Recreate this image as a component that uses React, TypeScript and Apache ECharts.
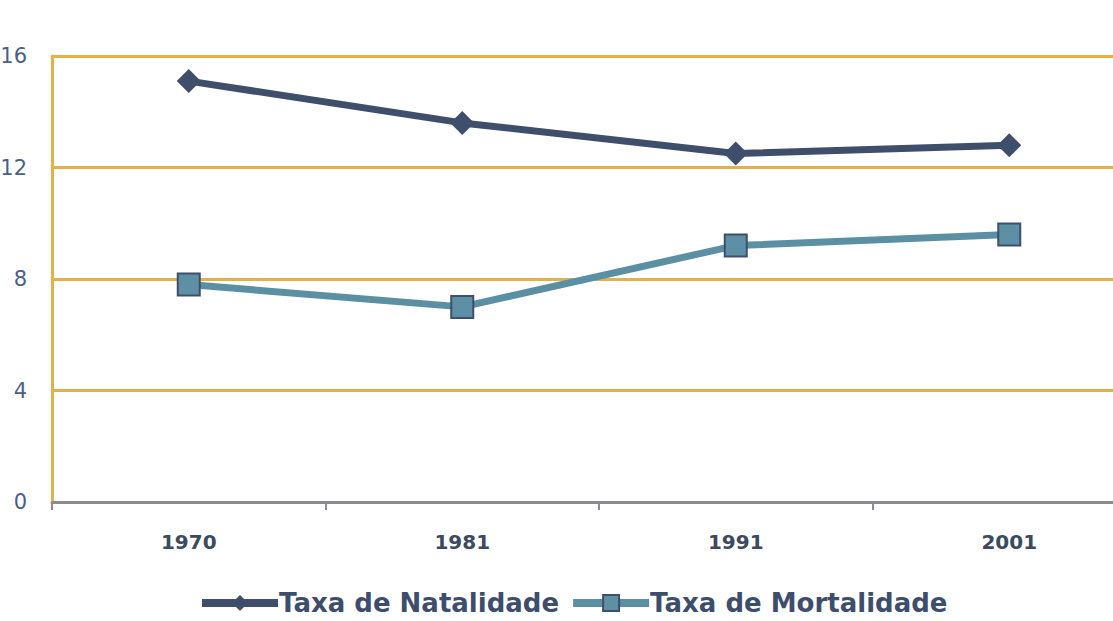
import React, { useEffect, useRef } from "react";
import * as echarts from "echarts";

const categories = ["1970", "1981", "1991", "2001"];
const natalidade = [15.1, 13.6, 12.5, 12.8];
const mortalidade = [7.8, 7.0, 9.2, 9.6];
const yTicks = [0, 4, 8, 12, 16];

export default function App() {
  const ref = useRef<HTMLDivElement>(null);
  useEffect(() => {
    if (!ref.current) return;
    const chart = echarts.init(ref.current, null, { renderer: "svg" });
    chart.setOption({
      animation: false,
      backgroundColor: "#ffffff",
      grid: {
        left: 52,
        width: 1094,
        top: 56,
        height: 446,
        containLabel: false,
        outerBoundsMode: "none",
      },
      legend: {
        top: 585,
        left: 193,
        itemWidth: 76,
        itemHeight: 20,
        itemGap: 10,
        textStyle: {
          fontFamily: "DejaVu Sans",
          fontWeight: "bold",
          fontSize: 26,
          color: "#3d4e6c",
          padding: [0, 0, 0, -4],
        },
        data: [
          {
            name: "Taxa de Natalidade",
            lineStyle: { width: 8, color: "#3f4f6b" },
          },
          {
            name: "Taxa de Mortalidade",
            lineStyle: { width: 8, color: "#5b8fa3" },
          },
        ],
      },
      xAxis: {
        type: "category",
        data: categories,
        boundaryGap: true,
        axisLine: { lineStyle: { color: "#8a8c90", width: 3 } },
        axisTick: { show: true, length: 8, lineStyle: { color: "#8a8c90", width: 2 } },
        axisLabel: {
          margin: 30,
          fontFamily: "DejaVu Sans",
          fontWeight: "bold",
          fontSize: 20,
          color: "#3b4a5e",
        },
      },
      yAxis: {
        type: "value",
        min: 0,
        max: 16,
        interval: 4,
        axisLine: { show: true, lineStyle: { color: "#e3b04a", width: 3 } },
        axisTick: { show: false },
        splitLine: { lineStyle: { color: "#e3b04a", width: 3 } },
        axisLabel: {
          margin: 25,
          fontFamily: "DejaVu Sans",
          fontSize: 21,
          color: "#4b6088",
          formatter: (v: number) => (yTicks.includes(v) ? String(v) : ""),
        },
      },
      series: [
        {
          name: "Taxa de Natalidade",
          type: "line",
          data: natalidade,
          symbol: "diamond",
          symbolSize: 24,
          lineStyle: { color: "#3f4f6b", width: 7 },
          itemStyle: { color: "#3f4f6b" },
          z: 3,
        },
        {
          name: "Taxa de Mortalidade",
          type: "line",
          data: mortalidade,
          symbol: "rect",
          symbolSize: 22,
          lineStyle: { color: "#5b8fa3", width: 7 },
          itemStyle: { color: "#5d90a4", borderColor: "#3f4f6b", borderWidth: 2 },
          z: 2,
        },
      ],
    });
    return () => chart.dispose();
  }, []);
  return <div ref={ref} style={{ width: 1113, height: 621, position: "absolute", left: 0, top: 0 }} />;
}
